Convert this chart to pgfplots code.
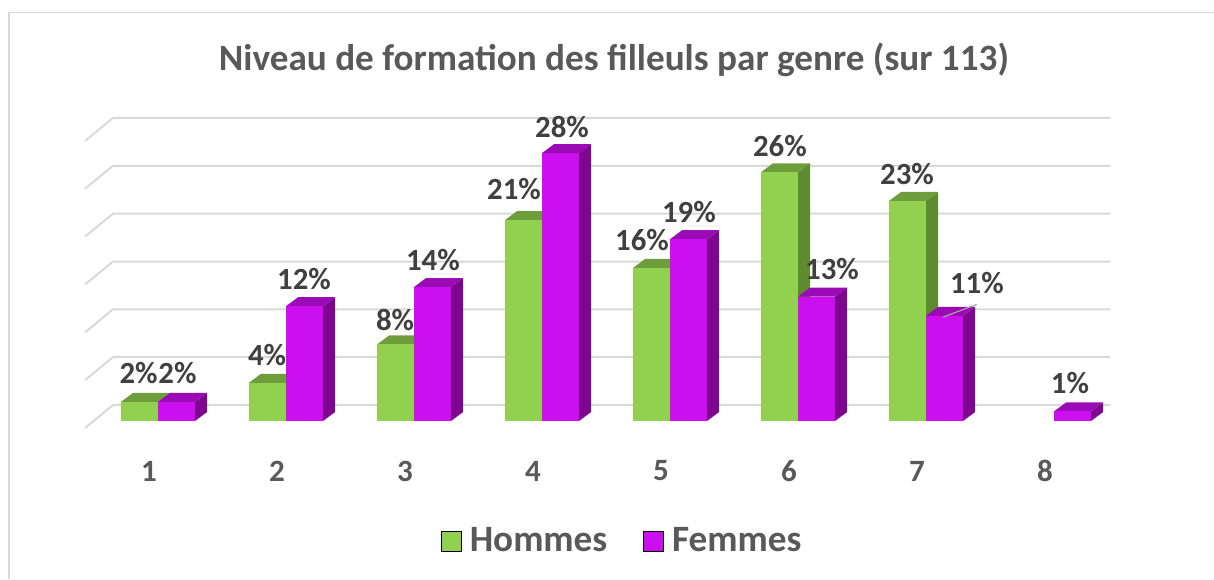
\documentclass[border=0pt]{standalone}
\usepackage{pgfplots}
\usepackage{pgfplotstable}
\pgfplotsset{compat=1.18}
\usepackage{fontspec}
\setmainfont{Carlito}
\definecolor{gfront}{HTML}{92D050}
\definecolor{gtop}{HTML}{6E9E3B}
\definecolor{gside}{HTML}{5E8A30}
\definecolor{pfront}{HTML}{CC0FEE}
\definecolor{ptop}{HTML}{9A0BB6}
\definecolor{pside}{HTML}{7E078F}
\definecolor{gridc}{HTML}{D9D9D9}
\definecolor{txt}{HTML}{595959}
\definecolor{labc}{HTML}{404040}
\pgfplotstableread{
x h f
1 2 2
2 4 12
3 8 14
4 21 28
5 16 19
6 26 13
7 23 11
8 0 1
}\data
\def\bw{0.289}
\def\ddx{0.094}
\def\ddy{0.94}
\newcommand\drawbar[6]{%
  \ifdim #3pt>0pt
  \pgfmathsetmacro\Ld{#1+\ddx}%
  \pgfmathsetmacro\Rd{#2+\ddx}%
  \pgfmathsetmacro\Hd{#3+\ddy}%
  \edef\temp{%
   \noexpand\addplot[fill=#6,draw=none] coordinates {(#2,0) (\Rd,\ddy) (\Rd,\Hd) (#2,#3)};
   \noexpand\addplot[fill=#5,draw=none] coordinates {(#1,#3) (\Ld,\Hd) (\Rd,\Hd) (#2,#3)};
   \noexpand\addplot[fill=#4,draw=none] coordinates {(#1,0) (#1,#3) (#2,#3) (#2,0)};
  }\temp
  \fi}
\begin{document}
\begin{tikzpicture}[lab/.style={font=\fontsize{15.4}{18}\selectfont\bfseries, text=labc, inner sep=0pt}]
\path[use as bounding box] (0,0) rectangle (607pt,289.5pt);
\draw[gridc, line width=0.8pt] (4.4pt,0) -- (4.4pt,283.3pt) -- (607pt,283.3pt);
\node[font=\fontsize{18.6}{22}\selectfont\bfseries, text=txt] at (307pt,259.5pt) {Niveau de formation des filleuls par genre (sur 113)};
\begin{axis}[
  at={(34.2pt,74.2pt)}, anchor=south west,
  scale only axis, width=537.6pt, height=153.1pt,
  xmin=0.3, xmax=8.7, ymin=-1, ymax=31,
  clip=false,
  axis line style={draw=none}, tick style={draw=none},
  ytick=\empty,
  xtick={1,...,8},
  xticklabels={1,2,3,4,5,6,7,8},
  xticklabel style={font=\fontsize{15.5}{18}\selectfont\bfseries, text=txt, anchor=center, yshift=-20.2pt, xshift=-4.5pt},
  legend columns=2,
  legend style={draw=none, fill=none, at={(rel axis cs:0.516,-0.3605)}, anchor=center,
    font=\fontsize{18.6}{22}\selectfont\bfseries, text=txt,
    /tikz/every even column/.append style={column sep=16pt},
    /tikz/every odd column/.append style={column sep=2pt}},
  legend image code/.code={\fill[#1] (0pt,-5pt) rectangle (10pt,5pt);},
]
\addlegendimage{fill=gfront}
\addlegendimage{fill=pfront}
\pgfplotsforeachungrouped \gv in {0,5,...,30}{%
  \pgfmathsetmacro\yf{\gv-0.73}\pgfmathsetmacro\yb{\gv+1.67}%
  \edef\temp{\noexpand\addplot[gridc,line width=1pt] coordinates {(0.43,\yf) (0.648,\yb) (8.44,\yb)};}\temp}
\pgfplotsforeachungrouped \i in {0,...,7}{%
  \pgfplotstablegetelem{\i}{x}\of\data \let\xv\pgfplotsretval
  \pgfplotstablegetelem{\i}{h}\of\data \let\hv\pgfplotsretval
  \pgfplotstablegetelem{\i}{f}\of\data \let\fv\pgfplotsretval
  \pgfmathsetmacro\gl{\xv-\bw}%
  \pgfmathsetmacro\pr{\xv+\bw}%
  \drawbar{\gl}{\xv}{\hv}{gfront}{gtop}{gside}%
  \drawbar{\xv}{\pr}{\fv}{pfront}{ptop}{pside}%
}
\addplot[color=black!35, line width=0.6pt] coordinates {(7.135,10.87) (7.396,12.19)};
\legend{Hommes,Femmes}
\node[lab, anchor=east] at (axis cs:1.0,5.02) {2\%};
\node[lab, anchor=west] at (axis cs:1.0,5.02) {2\%};
\node[lab] at (axis cs:1.852,6.90) {4\%};
\node[lab] at (axis cs:2.141,14.84) {12\%};
\node[lab] at (axis cs:2.852,10.55) {8\%};
\node[lab] at (axis cs:3.148,16.82) {14\%};
\node[lab] at (axis cs:3.781,24.24) {21\%};
\node[lab] at (axis cs:4.156,30.72) {28\%};
\node[lab] at (axis cs:4.781,18.91) {16\%};
\node[lab] at (axis cs:5.148,21.84) {19\%};
\node[lab] at (axis cs:5.859,28.74) {26\%};
\node[lab] at (axis cs:6.266,15.88) {13\%};
\node[lab] at (axis cs:6.852,25.81) {23\%};
\node[lab] at (axis cs:7.398,14.42) {11\%};
\node[lab] at (axis cs:8.125,3.97) {1\%};
\end{axis}
\end{tikzpicture}
\end{document}
